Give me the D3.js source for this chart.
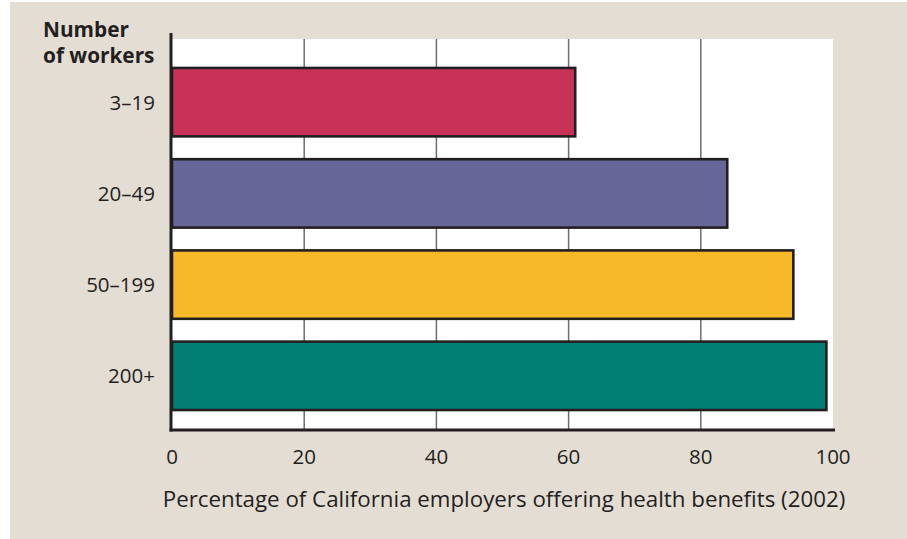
<!DOCTYPE html>
<html>
<head>
<meta charset="utf-8">
<script src="https://cdn.jsdelivr.net/npm/d3@7"></script>
<style>
  body { margin: 0; background: #fff; }
  svg { display: block; }
</style>
</head>
<body>
<div id="chart"></div>
<script>
const categories = ['3–19', '20–49', '50–199', '200+'];
const values = [61, 84, 94, 99];
const colors = ['#c83258', '#666699', '#f6b927', '#008075'];
const ticks = [0, 20, 40, 60, 80, 100];
const gridTicks = [20, 40, 60, 80];

const width = 907;
const height = 539;
const ink = '#231f20';
const font = '"Open Sans", "Noto Sans", sans-serif';

const svg = d3.select('#chart')
  .append('svg')
  .attr('width', width)
  .attr('height', height);

// beige panel
svg.append('rect')
  .attr('x', 10).attr('y', 2)
  .attr('width', width - 10).attr('height', height - 2)
  .attr('fill', '#e4ddd3');

const x = d3.scaleLinear().domain([0, 100]).range([172, 833]);
const y = d3.scaleBand()
  .domain(categories)
  .range([40.6, 437.4])
  .paddingInner(0.25)
  .paddingOuter(0.3);

const plotTop = 39;
const plotBottom = 430;

// white plot area
svg.append('rect')
  .attr('x', x(0)).attr('y', plotTop)
  .attr('width', x(100) - x(0)).attr('height', plotBottom - plotTop)
  .attr('fill', '#ffffff');

// gridlines
svg.append('g')
  .selectAll('line')
  .data(gridTicks)
  .join('line')
  .attr('x1', (d) => x(d)).attr('x2', (d) => x(d))
  .attr('y1', plotTop).attr('y2', plotBottom)
  .attr('stroke', '#6d6e70')
  .attr('stroke-width', 1.5);

// bars
svg.append('g')
  .selectAll('rect')
  .data(values)
  .join('rect')
  .attr('x', x(0))
  .attr('y', (d, i) => y(categories[i]))
  .attr('width', (d) => x(d) - x(0))
  .attr('height', y.bandwidth())
  .attr('fill', (d, i) => colors[i])
  .attr('stroke', ink)
  .attr('stroke-width', 2.6);

// axes lines
svg.append('line')
  .attr('x1', x(0) - 1).attr('x2', x(0) - 1)
  .attr('y1', 33).attr('y2', plotBottom + 1.5)
  .attr('stroke', ink).attr('stroke-width', 3);

svg.append('line')
  .attr('x1', x(0) - 2.5).attr('x2', x(100) + 2)
  .attr('y1', plotBottom).attr('y2', plotBottom)
  .attr('stroke', ink).attr('stroke-width', 3);

// category labels
svg.append('g')
  .selectAll('text')
  .data(categories)
  .join('text')
  .attr('x', 155)
  .attr('y', (d) => y(d) + y.bandwidth() / 2)
  .attr('dy', '0.36em')
  .attr('text-anchor', 'end')
  .attr('font-family', font)
  .attr('font-size', 20.5)
  .attr('fill', ink)
  .text((d) => d);

// y title
const yTitle = svg.append('text')
  .attr('font-family', font)
  .attr('font-size', 20.8)
  .attr('font-weight', 700)
  .attr('fill', ink);
yTitle.append('tspan').attr('x', 43).attr('y', 37).text('Number');
yTitle.append('tspan').attr('x', 43).attr('y', 63).text('of workers');

// tick labels
svg.append('g')
  .selectAll('text')
  .data(ticks)
  .join('text')
  .attr('x', (d) => x(d))
  .attr('y', 464)
  .attr('text-anchor', 'middle')
  .attr('font-family', font)
  .attr('font-size', 20.5)
  .attr('fill', ink)
  .text((d) => d);

// x title
svg.append('text')
  .attr('x', 504)
  .attr('y', 507)
  .attr('text-anchor', 'middle')
  .attr('font-family', font)
  .attr('font-size', 22.3)
  .attr('fill', ink)
  .text('Percentage of California employers offering health benefits (2002)');
</script>
</body>
</html>
